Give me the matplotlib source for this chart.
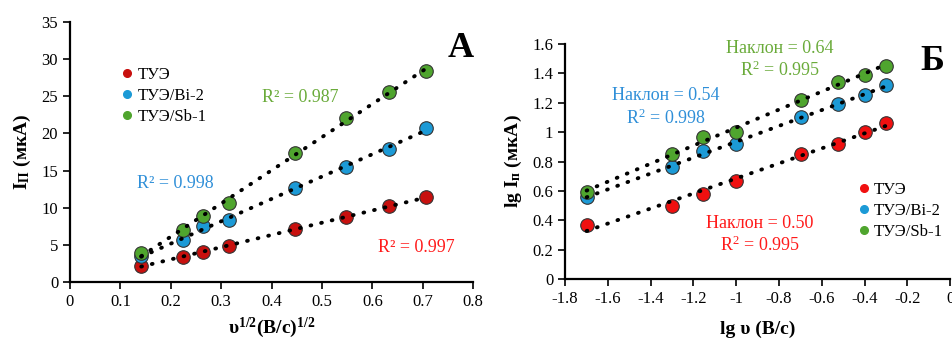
import numpy as np
import matplotlib
matplotlib.use('Agg')
import matplotlib.pyplot as plt
from matplotlib.lines import Line2D

plt.rcParams['font.family'] = ['Liberation Serif', 'DejaVu Serif']
plt.rcParams['mathtext.fontset'] = 'custom'
plt.rcParams['mathtext.rm'] = 'Liberation Serif'
plt.rcParams['mathtext.it'] = 'Liberation Serif:italic'
plt.rcParams['mathtext.bf'] = 'Liberation Serif:bold'

# scan rates, V/s
v = np.array([0.02, 0.05, 0.07, 0.1, 0.2, 0.3, 0.4, 0.5])
sqrt_v = np.sqrt(v)
lg_v = np.log10(v)

names = ['ТУЭ', 'ТУЭ/Bi-2', 'ТУЭ/Sb-1']

# panel A: peak current, uA
ip_tue = [2.2, 3.4, 4.1, 4.8, 7.1, 8.8, 10.2, 11.4]
ip_bi = [3.5, 5.7, 7.5, 8.4, 12.6, 15.5, 17.9, 20.8]
ip_sb = [3.9, 7.0, 8.9, 10.6, 17.4, 22.1, 25.6, 28.4]

# panel B: lg Ip
lg_tue = [0.37, 0.50, 0.58, 0.67, 0.85, 0.92, 1.00, 1.06]
lg_bi = [0.56, 0.76, 0.87, 0.92, 1.10, 1.19, 1.25, 1.32]
lg_sb = [0.59, 0.85, 0.97, 1.00, 1.22, 1.34, 1.39, 1.45]

r2_a = ['0.997', '0.998', '0.987']
slopes_b = ['0.50', '0.54', '0.64']
r2_b = ['0.995', '0.998', '0.995']

col_a = ['#c8100e', '#1c9ad6', '#4fa52e']
col_b = ['#f01010', '#1c9ad6', '#4fa52e']
txt_col = ['#ff1a1a', '#2f8fd8', '#6aab3a']


def style_ax(ax):
    ax.spines['top'].set_visible(False)
    ax.spines['right'].set_visible(False)
    ax.spines['left'].set_linewidth(1.6)
    ax.spines['bottom'].set_linewidth(1.6)
    ax.tick_params(direction='out', width=1.2, length=5, labelsize=12)


def draw_series(ax, x, ys, cols):
    for y, c in zip(ys, cols):
        y = np.array(y)
        k, b = np.polyfit(x, y, 1)
        xx = np.array([x.min(), x.max()])
        ax.plot(xx, k * xx + b, color='black', ls=(0, (0.2, 2.6)), lw=2.8,
                dash_capstyle='round', zorder=3)
        ax.scatter(x, y, s=95, color=c, edgecolor='#333333', linewidth=0.8, zorder=2)


def legend(ax, cols, loc, anchor):
    handles = [Line2D([], [], ls='none', marker='o', ms=5.5, color=c) for c in cols]
    ax.legend(handles, names, loc=loc, bbox_to_anchor=anchor, frameon=False,
              fontsize=12, handletextpad=0.1, handlelength=1.0,
              labelspacing=0.3, borderaxespad=0)


fig = plt.figure(figsize=(9.52, 3.4), dpi=100)

# panel A
ax1 = fig.add_axes([0.0735, 0.1706, 0.4235, 0.7644])
style_ax(ax1)
draw_series(ax1, sqrt_v, [ip_tue, ip_bi, ip_sb], col_a)
ax1.set_xlim(0, 0.8)
ax1.set_ylim(0, 35)
ax1.set_xticks(np.arange(0, 0.81, 0.1))
ax1.set_xticklabels(['0', '0.1', '0.2', '0.3', '0.4', '0.5', '0.6', '0.7', '0.8'])
ax1.set_yticks(np.arange(0, 36, 5))
ax1.set_xlabel(r'υ$^{\mathbf{1/2}}$(В/с)$^{\mathbf{1/2}}$', fontsize=14,
               fontweight='bold', labelpad=4)
ax1.set_ylabel(r'$\mathbf{I}_{\mathbf{П}}$ (мкА)', fontsize=14,
               fontweight='bold', labelpad=6)
ax1.text(0.687, 4.6, 'R² = ' + r2_a[0], color=txt_col[0], fontsize=13,
         ha='center', va='center')
ax1.text(0.210, 13.2, 'R² = ' + r2_a[1], color=txt_col[1], fontsize=13,
         ha='center', va='center')
ax1.text(0.457, 24.8, 'R² = ' + r2_a[2], color=txt_col[2], fontsize=13,
         ha='center', va='center')
ax1.text(0.97, 0.9, 'А', transform=ax1.transAxes, fontsize=26,
         fontweight='bold', ha='center', va='center')
legend(ax1, col_a, 'upper left', (0.105, 0.853))

# panel B
ax2 = fig.add_axes([0.5935, 0.179, 0.4045, 0.692])
style_ax(ax2)
draw_series(ax2, lg_v, [lg_tue, lg_bi, lg_sb], col_b)
ax2.set_xlim(-1.8, 0)
ax2.set_ylim(0, 1.6)
ax2.set_xticks(np.arange(-1.8, 0.01, 0.2))
ax2.set_xticklabels(['-1.8', '-1.6', '-1.4', '-1.2', '-1', '-0.8', '-0.6',
                     '-0.4', '-0.2', '0'])
ax2.set_yticks(np.arange(0, 1.61, 0.2))
ax2.set_yticklabels(['0', '0.2', '0.4', '0.6', '0.8', '1', '1.2', '1.4', '1.6'])
ax2.set_xlabel('lg υ (В/с)', fontsize=14, fontweight='bold', labelpad=10)
ax2.set_ylabel(r'lg $\mathbf{I}_{\mathbf{п}}$ (мкА)', fontsize=14,
               fontweight='bold', labelpad=6)
pos_b = [(-0.888, 0.30), (-1.328, 1.168), (-0.795, 1.488)]
for (px, py), s, r, c in zip(pos_b, slopes_b, r2_b, txt_col):
    ax2.text(px, py, 'Наклон = ' + s + '\n' + r'R$^{2}$ = ' + r, color=c,
             fontsize=13, ha='center', va='center', linespacing=1.25)
ax2.text(0.955, 0.923, 'Б', transform=ax2.transAxes, fontsize=26,
         fontweight='bold', ha='center', va='center')
legend(ax2, col_b, 'upper left', (0.737, 0.442))

fig.savefig('out.png', dpi=100)
